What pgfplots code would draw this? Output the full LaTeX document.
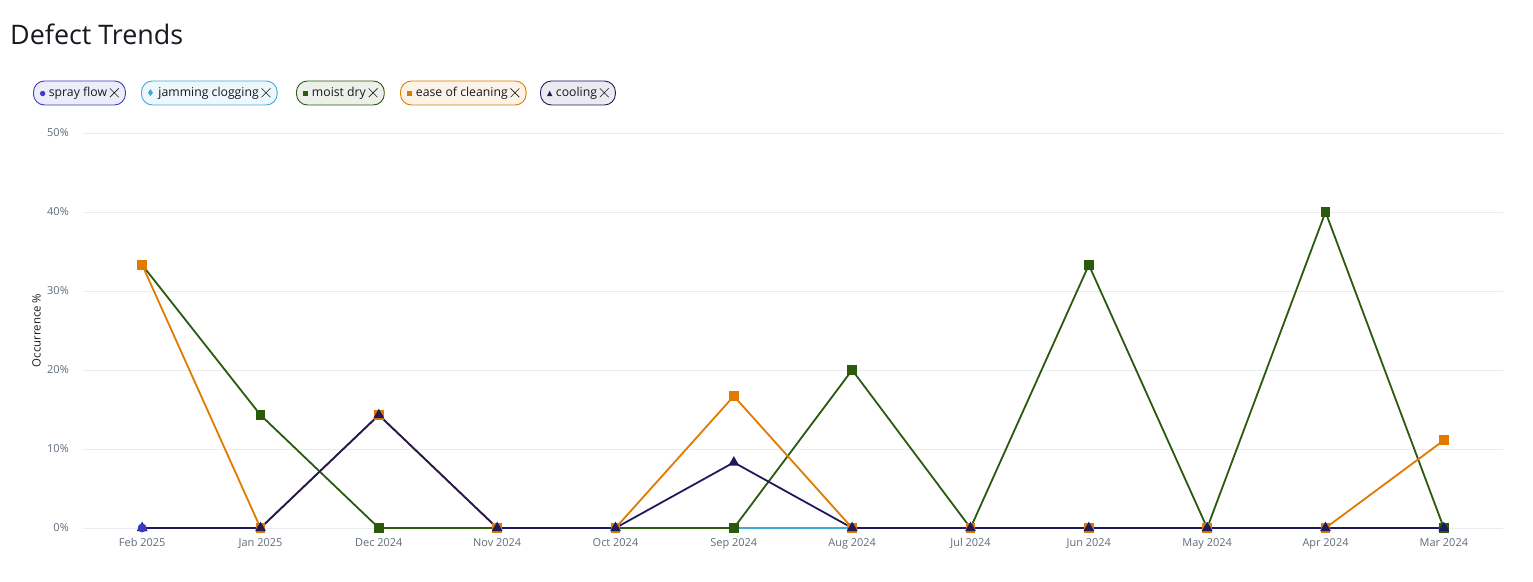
\documentclass[border=0pt]{standalone}
\usepackage{pgfplots}
\pgfplotsset{compat=1.18}
\usepackage{pgfplotstable}
\usepackage{fontspec}
\setmainfont{Open Sans}
\definecolor{cSpray}{HTML}{3B3BC9}
\definecolor{cJam}{HTML}{3FA9DA}
\definecolor{cMoist}{HTML}{2B5A0F}
\definecolor{cEase}{HTML}{E07B00}
\definecolor{cCool}{HTML}{1F1A5E}
\definecolor{cGrid}{HTML}{E9EBED}
\definecolor{cTick}{HTML}{5F6B7A}
\definecolor{cTitle}{HTML}{16191F}
\pgfplotstableread{
x spray jam moist ease cool
0 0 nan 33.3 33.3 0
1 nan nan 14.3 0 0
2 nan nan 0 14.3 14.3
3 nan nan 0 0 0
4 nan nan 0 0 0
5 nan 0 0 16.7 8.3
6 nan 0 20 0 0
7 nan nan 0 0 0
8 nan nan 33.3 0 0
9 nan nan 0 0 0
10 nan nan 40 0 0
11 nan nan 0 11.1 0
}\datatable
\newcommand{\xmark}{\tikz[baseline=-3.4bp, sharp corners]\draw[line width=0.6bp, cTitle] (-4.4bp,-4.4bp)--(4.4bp,4.4bp) (-4.4bp,4.4bp)--(4.4bp,-4.4bp);}
\tikzset{pill/.style={draw=#1, fill=#1!9, rounded corners=11bp, line width=0.9bp, minimum height=24bp, inner xsep=6.5bp, anchor=west, font=\fontsize{12.3}{14}\selectfont, text=cTitle}}
\begin{document}
\begin{tikzpicture}[x=1bp,y=1bp]
\path[use as bounding box] (0,0) rectangle (1533,582);
\node[anchor=base west, font=\fontsize{27}{32}\selectfont, text=cTitle, inner sep=0] at (10,537) {Defect Trends};
\node[pill=cSpray] at (33,489) {\tikz[sharp corners]\fill[cSpray] (0,0) circle (2.7bp);\hspace{3.5bp}spray flow\hspace{2.5bp}\xmark};
\node[pill=cJam] at (141,489) {\tikz[sharp corners]\fill[cJam] (0,-3.5bp)--(2.5bp,0)--(0,3.5bp)--(-2.5bp,0)--cycle;\hspace{5.5bp}jamming clogging\hspace{2.5bp}\xmark};
\node[pill=cMoist] at (296,489) {\tikz[sharp corners]\fill[cMoist] (0,0) rectangle (5.5bp,5.5bp);\hspace{3.5bp}moist dry\hspace{2.5bp}\xmark};
\node[pill=cEase] at (400,489) {\tikz[sharp corners]\fill[cEase] (0,0) rectangle (5.5bp,5.5bp);\hspace{3.5bp}ease of cleaning\hspace{2.5bp}\xmark};
\node[pill=cCool] at (540,489) {\tikz[sharp corners]\fill[cCool] (0,0)--(5.5bp,0)--(2.75bp,5.5bp)--cycle;\hspace{3.5bp}cooling\hspace{2.5bp}\xmark};
\begin{axis}[
  at={(83bp,54bp)}, anchor=south west,
  scale only axis, width=1420bp, height=395bp,
  xmin=-0.5, xmax=11.5, ymin=0, ymax=50,
  xtick={0,...,11},
  xticklabels={Feb 2025,Jan 2025,Dec 2024,Nov 2024,Oct 2024,Sep 2024,Aug 2024,Jul 2024,Jun 2024,May 2024,Apr 2024,Mar 2024},
  ytick={0,10,20,30,40,50},
  yticklabels={0\%,10\%,20\%,30\%,40\%,50\%},
  ymajorgrids, grid style={cGrid, line width=0.8bp},
  axis line style={draw=none},
  major tick length=0,
  tick label style={font=\fontsize{11}{13}\selectfont, text=cTick},
  xticklabel style={yshift=-6bp},
  yticklabel style={xshift=-10bp},
  ylabel={Occurrence \%},
  ylabel style={font=\fontsize{11.5}{13}\selectfont, text=cTitle, at={(-38bp,0.5)}, anchor=south},
  clip=false,
  line width=1.8bp,
  unbounded coords=jump,
]
\addplot[cJam, mark=diamond*, mark size=3.5bp] table[x=x,y=jam] {\datatable};
\addplot[cMoist, mark=square*, mark size=4bp] table[x=x,y=moist] {\datatable};
\addplot[cEase, mark=square*, mark size=4bp] table[x=x,y=ease] {\datatable};
\addplot[cCool, mark=triangle*, mark size=4.5bp] table[x=x,y=cool] {\datatable};
\addplot[cSpray, mark=*, mark size=3.5bp, only marks] table[x=x,y=spray] {\datatable};
\end{axis}
\end{tikzpicture}
\end{document}
